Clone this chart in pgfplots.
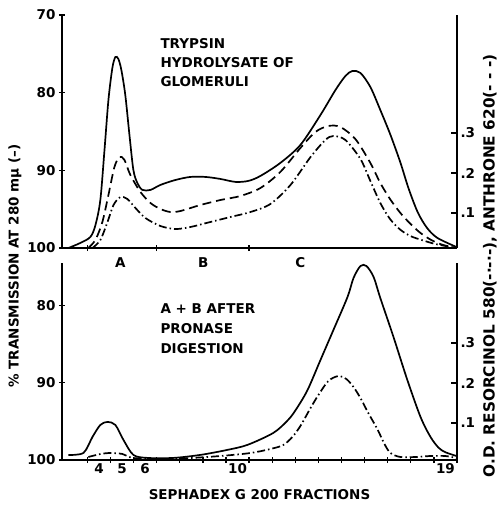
\documentclass[border=0pt]{standalone}
\usepackage{fontspec}
\setmainfont{DejaVu Sans}
\usepackage{pgfplots}
\pgfplotsset{compat=1.18}

\newcommand\lf{\fontsize{13.5}{16}\selectfont\bfseries}

\pgfplotsset{
  panel/.style={
    scale only axis, width=395pt,
    xmin=2.4, xmax=19.5,
    axis line style={line width=1.5pt},
    every tick/.style={black, line width=1.3pt},
    major tick length=6pt,
    tick label style={font=\lf},
    /pgf/number format/assume math mode=true,
    clip=false,
  },
  solid curve/.style={black, line width=1.7pt, smooth},
  dash curve/.style={black, line width=1.7pt, smooth, dash pattern=on 9pt off 5pt},
  dashdot curve/.style={black, line width=1.7pt, smooth, dash pattern=on 8pt off 3pt on 1.5pt off 3pt},
}

\begin{document}
\begin{tikzpicture}
% top panel, % transmission
\begin{axis}[panel, at={(0,0)}, anchor=south west, height=233pt,
  ymin=70, ymax=100, y dir=reverse,
  axis x line*=bottom, axis y line*=left,
  ytick={70,80,90,100}, tick align=center,
  xtick={3.5,6.5,10.5}, xticklabels={}]
\addplot[solid curve] coordinates {(2.68,100.0) (3.20,99.34) (3.63,98.57) (3.85,97.03) (4.06,93.81) (4.24,87.37) (4.41,80.94) (4.58,76.82) (4.71,75.41) (4.84,75.66) (4.97,77.08) (5.14,80.30) (5.32,85.44) (5.49,89.95) (5.66,91.62) (5.88,92.52) (6.23,92.52) (6.66,91.88) (7.31,91.24) (7.96,90.85) (8.61,90.85) (9.26,91.11) (9.91,91.49) (10.47,91.36) (10.99,90.72) (11.85,89.05) (12.72,86.73) (13.59,82.87) (14.24,79.65) (14.67,77.85) (14.97,77.21) (15.32,77.46) (15.75,79.27) (16.18,82.23) (16.62,85.44) (17.05,89.0) (17.4,92.3) (17.8,95.4) (18.2,97.4) (18.65,98.7) (19.5,99.9)};
\node[anchor=base, font=\lf] at (axis cs:4.93,100) [yshift=-19pt] {A};
\node[anchor=base, font=\lf] at (axis cs:8.52,100) [yshift=-19pt] {B};
\node[anchor=base, font=\lf] at (axis cs:12.72,100) [yshift=-19pt] {C};
\end{axis}
% top panel, O.D.
\begin{axis}[panel, at={(0,0)}, anchor=south west, height=233pt,
  ymin=0.0125, ymax=0.595,
  axis x line=none, axis y line*=right, tick align=inside,
  ytick={0.1,0.2,0.3}, yticklabels={.1,.2,.3}]
\addplot[dash curve] coordinates {(3.54,0.0125) (3.85,0.033) (4.15,0.078) (4.41,0.145) (4.67,0.215) (4.89,0.24) (5.10,0.233) (5.36,0.195) (5.79,0.153) (6.23,0.125) (6.66,0.11) (7.09,0.1025) (7.53,0.105) (8.39,0.12) (9.26,0.1325) (10.12,0.1425) (10.99,0.1625) (11.85,0.2025) (12.72,0.2625) (13.37,0.3025) (13.93,0.3175) (14.45,0.315) (15.10,0.285) (15.75,0.225) (16.18,0.175) (16.6,0.135) (17.05,0.10) (17.5,0.072) (17.92,0.05) (18.4,0.032) (18.9,0.02) (19.47,0.013)};
\addplot[dashdot curve] coordinates {(3.72,0.0125) (4.06,0.0325) (4.37,0.0775) (4.63,0.12) (4.93,0.14) (5.23,0.135) (5.58,0.1125) (6.01,0.0875) (6.66,0.0675) (7.31,0.06) (7.96,0.065) (8.82,0.0775) (9.69,0.09) (10.56,0.1025) (11.42,0.1225) (12.29,0.17) (13.16,0.24) (13.80,0.2825) (14.15,0.2925) (14.67,0.2825) (15.32,0.235) (15.75,0.18) (16.18,0.125) (16.6,0.085) (17.05,0.058) (17.5,0.042) (18.0,0.032) (18.6,0.022) (19.47,0.013)};
\end{axis}

% bottom panel, % transmission
\begin{axis}[panel, at={(0,-15pt)}, anchor=north west, height=197pt,
  ymin=74.5, ymax=100, y dir=reverse,
  axis x line*=bottom, axis y line*=left,
  ytick={80,90,100}, tick align=center,
  xtick={3.5,4.5,...,19.5}, xticklabels={},
  extra x ticks={4,5,6,10,19}, extra x tick labels={4,5,6,10,19},
  extra x tick style={major tick length=0pt},
  xlabel={SEPHADEX G 200 FRACTIONS}, xlabel style={font=\lf, yshift=-6pt}]
\addplot[solid curve] coordinates {(2.68,99.34) (3.33,99.08) (3.72,97.01) (4.06,95.46) (4.37,95.07) (4.71,95.46) (5.06,97.40) (5.49,99.34) (6.10,99.73) (7.22,99.73) (8.39,99.34) (9.56,98.69) (10.43,98.04) (11.55,96.49) (12.16,94.9) (12.5,93.6) (13.02,91.0) (13.59,87.05) (14.15,83.17) (14.76,78.90) (15.02,76.44) (15.32,74.89) (15.58,74.89) (15.89,76.31) (16.18,79.03) (16.75,84.07) (17.35,89.64) (17.92,94.42) (18.35,97.0) (18.7,98.4) (19.0,99.0) (19.5,99.5)};
\end{axis}
% bottom panel, O.D.
\begin{axis}[panel, at={(0,-15pt)}, anchor=north west, height=197pt,
  ymin=0.0075, ymax=0.5,
  axis x line=none, axis y line*=right, tick align=inside,
  ytick={0.1,0.2,0.3}, yticklabels={.1,.2,.3}]
\addplot[dashdot curve] coordinates {(3.54,0.015) (4.06,0.0225) (4.50,0.025) (5.02,0.0225) (5.49,0.0125) (6.66,0.01) (7.96,0.0125) (9.26,0.0175) (10.56,0.025) (11.42,0.035) (11.98,0.045) (12.37,0.065) (12.72,0.0925) (13.16,0.1375) (13.50,0.17) (13.93,0.205) (14.37,0.2175) (14.71,0.21) (15.02,0.19) (15.32,0.1625) (15.66,0.125) (16.05,0.085) (16.36,0.0475) (16.62,0.025) (17.05,0.015) (17.70,0.015) (18.35,0.0175) (19.00,0.0175) (19.47,0.0125)};
\end{axis}

% panel texts
\node[anchor=base west, font=\lf] at (95pt,200pt) {TRYPSIN};
\node[anchor=base west, font=\lf] at (95pt,180pt) {HYDROLYSATE OF};
\node[anchor=base west, font=\lf] at (95pt,161pt) {GLOMERULI};
\node[anchor=base west, font=\lf] at (95pt,-65pt) {A + B AFTER};
\node[anchor=base west, font=\lf] at (95pt,-85pt) {PRONASE};
\node[anchor=base west, font=\lf] at (95pt,-105pt) {DIGESTION};

% axis titles
\node[rotate=90, font=\lf] at (-47pt,-18pt) {\% TRANSMISSION AT 280 mμ (–)};
\node[rotate=90, font=\fontsize{15.3}{17}\selectfont\bfseries] at (428pt,-18pt) {O.D. RESORCINOL 580(-·-·-), ANTHRONE 620(- - -)};

\path[use as bounding box] (-62pt,248pt) rectangle (439pt,-264pt);
\end{tikzpicture}
\end{document}
